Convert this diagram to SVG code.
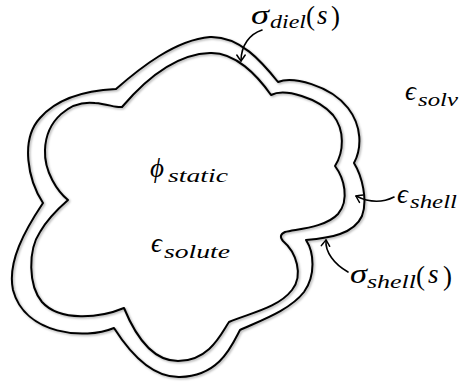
<svg xmlns="http://www.w3.org/2000/svg" width="459" height="385" viewBox="0 0 459 385">
<style>
.bnd{fill:none;stroke:#000;stroke-width:2;stroke-linejoin:round;filter:url(#sh)}
.arr{fill:none;stroke:#000;stroke-width:1.6;stroke-linecap:round;marker-end:url(#head)}
text{fill:#000}
.m{font-style:italic;font-size:27px}
.s{font-style:italic;font-size:19px}
.p{font-style:normal;font-size:27px}
</style>
<defs>
<filter id="sh" x="-10%" y="-10%" width="120%" height="120%">
<feDropShadow dx="1.2" dy="1.2" stdDeviation="1" flood-color="#000" flood-opacity="0.35"/>
</filter>
<marker id="head" viewBox="-7 -5 8 10" refX="0" refY="0" markerWidth="8" markerHeight="10" markerUnits="userSpaceOnUse" orient="auto" overflow="visible">
<path d="M-6,-4.2 Q-1.5,-1.2 0,0 Q-1.5,1.2 -6,4.2" fill="none" stroke="#000" stroke-width="1.5" stroke-linecap="round" stroke-linejoin="round"/>
</marker>
</defs>
<rect width="459" height="385" fill="#fff"/>
<g id="outer-boundary">
<path class="bnd" d="M116,89 C140,68 175,40 210,37 C240,36 262,62 278,82 C292,76 330,85 348,108 C362,126 362,148 354,163 C362,176 368,200 362,216 C354,234 330,238 306,240 C314,252 316,275 304,292 C290,310 262,320 240,330 C232,345 220,376 180,377 C150,378 128,350 114,328 C85,340 25,335 13,290 C7,262 25,230 43,203 C28,180 20,140 40,118 C60,95 95,90 116,89 Z"/>
</g>
<g id="inner-boundary">
<path class="bnd" d="M122,107 C145,80 175,54 210,53 C235,52 257,75 271,95 C285,88 318,98 333,115 C345,130 344,152 335,166 C344,178 350,200 338,214 C325,228 296,229 285,232 Q278,235 283,241 C296,252 304,275 292,290 C278,308 250,313 229,322 C222,332 210,361 178,361 C150,361 133,330 124,308 C100,318 60,322 42,302 C28,285 28,250 40,232 C48,218 60,207 68,200 C58,192 44,172 45,150 C46,120 70,100 95,103 C108,104 116,108 122,107 Z"/>
</g>
<g id="connectors">
<path class="arr" d="M262,30 C250,34 241,45 241,61"/>
<path class="arr" d="M394,197 C382,203 368,202 356,196"/>
<path class="arr" d="M348,272 C334,264 325,252 326,240"/>
</g>
<g id="label-sigma-diel" font-family="Liberation Serif, serif">
<text class="m" x="251" y="24" textLength="18" lengthAdjust="spacingAndGlyphs">σ</text>
<text class="s" x="270" y="28" textLength="36" lengthAdjust="spacingAndGlyphs">diel</text>
<text class="p" x="306" y="25">(</text>
<text class="m" x="317" y="24">s</text>
<text class="p" x="331" y="25">)</text>
</g>
<g id="label-eps-solv" font-family="Liberation Serif, serif">
<text class="m" x="405" y="100">ϵ</text>
<text class="s" x="418" y="106" textLength="40" lengthAdjust="spacingAndGlyphs">solv</text>
</g>
<g id="label-phi-static" font-family="Liberation Serif, serif">
<text class="m" x="150" y="177">ϕ</text>
<text class="s" x="168" y="182" textLength="60" lengthAdjust="spacingAndGlyphs">static</text>
</g>
<g id="label-eps-solute" font-family="Liberation Serif, serif">
<text class="m" x="151" y="252">ϵ</text>
<text class="s" x="164" y="258" textLength="66" lengthAdjust="spacingAndGlyphs">solute</text>
</g>
<g id="label-eps-shell" font-family="Liberation Serif, serif">
<text class="m" x="397" y="203">ϵ</text>
<text class="s" x="410" y="208" textLength="47" lengthAdjust="spacingAndGlyphs">shell</text>
</g>
<g id="label-sigma-shell" font-family="Liberation Serif, serif">
<text class="m" x="350" y="283" textLength="17" lengthAdjust="spacingAndGlyphs">σ</text>
<text class="s" x="367" y="288" textLength="49" lengthAdjust="spacingAndGlyphs">shell</text>
<text class="p" x="416" y="285">(</text>
<text class="m" x="428" y="283">s</text>
<text class="p" x="443" y="285">)</text>
</g>
</svg>
